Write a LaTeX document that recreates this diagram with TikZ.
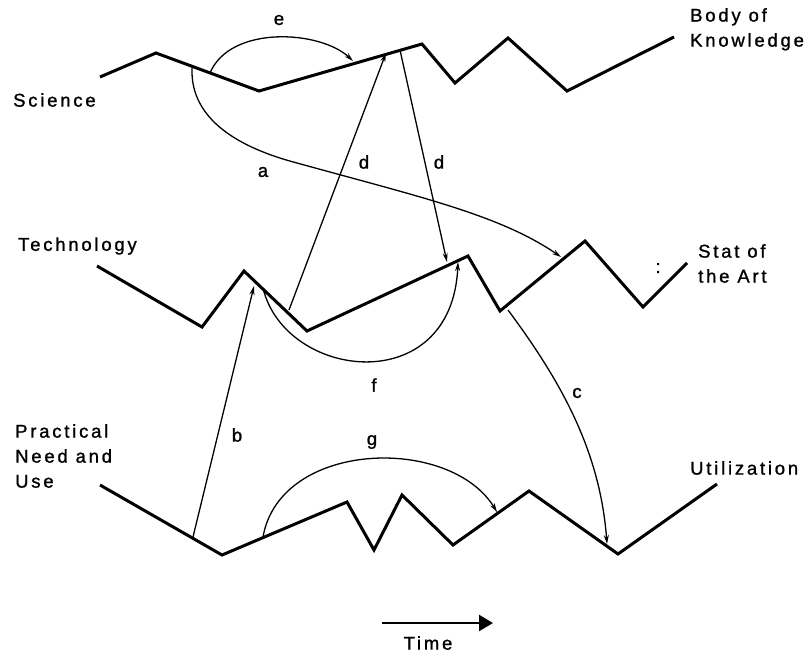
\documentclass[tikz,border=0pt]{standalone}
\usepackage{fontspec}
\setmainfont{Liberation Sans}[LetterSpace=15, FakeBold=1.2]
\usetikzlibrary{arrows.meta}

\tikzset{
  trend/.style={line width=3pt, line join=miter, line cap=butt},
  link/.style={line width=1.3pt, -{Stealth[length=9pt,width=5pt]}},
  linkplain/.style={line width=1.3pt},
  lbl/.style={font=\fontsize{18.5}{25}\selectfont, inner sep=0pt, anchor=west, align=left},
  tag/.style={font=\fontsize{18.5}{25}\selectfont, inner sep=0pt},
}

\begin{document}
\begin{tikzpicture}[x=1pt, y=-1pt]
  \useasboundingbox (0,0) rectangle (811,653);

  % ---- Science: body of knowledge
  \draw[trend] (100,77) -- (156,53) -- (259,91) -- (422,44) -- (455,83)
               -- (508,38) -- (567,91) -- (674,37);
  % ---- Technology: state of the art
  \draw[trend] (97,266) -- (202,327) -- (244,271) -- (307,331) -- (468,256)
               -- (500,311) -- (585,241) -- (643,307) -- (687,263);
  % ---- Practical need and use: utilization
  \draw[trend] (100,485) -- (222,555) -- (347,502) -- (374,550) -- (402,495)
               -- (453,545) -- (529,491) -- (618,554) -- (717,484);

  % anchor points on the three trend lines
  \coordinate (sA)  at (192,68);
  \coordinate (sE1) at (210,73);
  \coordinate (sE2) at (353,61);
  \coordinate (sD1) at (386,53);
  \coordinate (sD2) at (400,50);
  \coordinate (tB)  at (254,286);
  \coordinate (tF1) at (263,288);
  \coordinate (tD1) at (289,310);
  \coordinate (tD2) at (447,262);
  \coordinate (tF2) at (458,262);
  \coordinate (tC)  at (508,310);
  \coordinate (tA)  at (561,257);
  \coordinate (uB)  at (193,537);
  \coordinate (uG1) at (263,537);
  \coordinate (uG2) at (497,512);
  \coordinate (uC)  at (607,544);

  % ---- connectors
  \draw[link] (sE1) .. controls (230,25) and (320,30) .. (sE2);
  \draw[linkplain] (sA) .. controls (190,120) and (240,148) .. (297,163) coordinate (aMid);
  \draw[link] (aMid) .. controls (420,197) and (500,215) .. (tA);
  \draw[link] (tD1) -- (sD1);
  \draw[link] (sD2) -- (tD2);
  \draw[link] (uB) -- (tB);
  \draw[link] (tF1) .. controls (285,380) and (452,400) .. (tF2);
  \draw[link] (tC) .. controls (560,380) and (600,450) .. (uC);
  \draw[link] (uG1) .. controls (280,440) and (450,435) .. (uG2);

  % ---- connector letters
  \node[tag] (la) at (263,172) {a};
  \node[tag] (lb) at (237,435) {b};
  \node[tag] (lc) at (577,393) {c};
  \node[tag] (ld1) at (364,162) {d};
  \node[tag] (ld2) at (439,162) {d};
  \node[tag] (le) at (279,20) {e};
  \node[tag] (lf) at (374,385) {f};
  \node[tag] (lg) at (372,442) {g};

  % ---- row labels
  \node[lbl] (science) at (13,100) {Science};
  \node[lbl, anchor=north west] (body) at (690,8) {Body of\\Knowledge};
  \node[lbl] (tech) at (18,246) {Technology};
  \node[lbl, anchor=north west] (state) at (698,244) {Stat of\\the Art};
  \node[tag] (colon) at (658,268) {:};
  \node[lbl, anchor=north west] (need) at (15,424) {Practical\\Need and\\Use};
  \node[lbl] (util) at (690,468) {Utilization};

  % ---- time axis
  \coordinate (t0) at (382,623);
  \coordinate (t1) at (493,623);
  \draw[line width=2.4pt, -{Triangle[length=14pt,width=16pt]}] (t0) -- (t1);
  \node[tag] (time) at (428,643) {Time};
\end{tikzpicture}
\end{document}
